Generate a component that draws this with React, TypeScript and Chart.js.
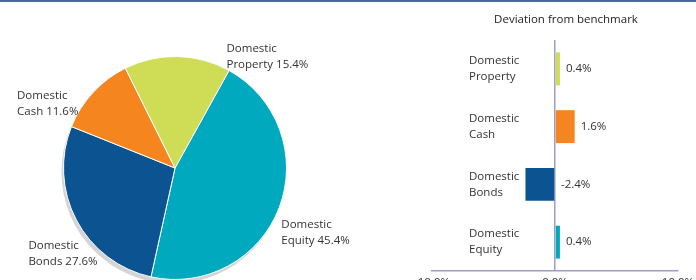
import React, { useEffect, useRef } from "react";
import { Chart, registerables } from "chart.js";

Chart.register(...registerables);

// ---- Data ----
const pieLabels = ["Domestic Equity", "Domestic Bonds", "Domestic Cash", "Domestic Property"];
const pieValues = [45.4, 27.6, 11.6, 15.4];
const pieColors = ["#00a9bd", "#0b5491", "#f5861f", "#cfdc56"];

const barLabels = ["Domestic Property", "Domestic Cash", "Domestic Bonds", "Domestic Equity"];
const barValues = [0.4, 1.6, -2.4, 0.4];
const barColors = ["#cfdc56", "#f5861f", "#0b5491", "#00a9bd"];

const xTickMin = -10;
const xTickMax = 10;
const xTickStep = 10;
const barTitle = "Deviation from benchmark";

// ---- Layout (text offsets relative to slice outer-mid point) ----
const pieLabelOffsets = [
  [2, 17],
  [-48, 26],
  [-76, 3],
  [49, -8],
];

const FAMILY = "'Open Sans', 'Noto Sans', sans-serif";
const FONT = `11.5px ${FAMILY}`;
const TEXT = "#333333";
const AXIS = "#9c9ec9";

function splitLabel(s: string): [string, string] {
  const i = s.indexOf(" ");
  return [s.slice(0, i), s.slice(i + 1)];
}

const piePlugin = {
  id: "pieDecor",
  beforeDatasetsDraw(chart: any) {
    const meta = chart.getDatasetMeta(0);
    const a = meta.data[0];
    if (!a) return;
    const ctx = chart.ctx;
    ctx.save();
    ctx.fillStyle = "#d4d4d6";
    ctx.beginPath();
    ctx.arc(a.x - 2, a.y + 4, a.outerRadius, 0, Math.PI * 2);
    ctx.fill();
    ctx.restore();
  },
  afterDatasetsDraw(chart: any) {
    const meta = chart.getDatasetMeta(0);
    const ctx = chart.ctx;
    ctx.save();
    ctx.font = FONT;
    ctx.fillStyle = TEXT;
    ctx.textBaseline = "middle";
    ctx.textAlign = "left";
    meta.data.forEach((arc: any, i: number) => {
      const mid = (arc.startAngle + arc.endAngle) / 2;
      const px = arc.x + Math.cos(mid) * arc.outerRadius;
      const py = arc.y + Math.sin(mid) * arc.outerRadius;
      const [l1, l2] = splitLabel(pieLabels[i]);
      const x = px + pieLabelOffsets[i][0];
      const y = py + pieLabelOffsets[i][1];
      ctx.fillText(l1, x, y);
      ctx.fillText(`${l2} ${pieValues[i].toFixed(1)}%`, x, y + 16);
    });
    ctx.restore();
  },
};

const barPlugin = {
  id: "barDecor",
  afterDatasetsDraw(chart: any) {
    const ctx = chart.ctx;
    const xs = chart.scales.x;
    const meta = chart.getDatasetMeta(0);
    ctx.save();
    ctx.font = FONT;
    ctx.fillStyle = "#222222";
    ctx.textBaseline = "middle";
    ctx.textAlign = "center";
    ctx.fillText(barTitle, xs.getPixelForValue(0) + 11, 20);
    ctx.fillStyle = TEXT;
    ctx.textAlign = "left";
    meta.data.forEach((bar: any, i: number) => {
      const [l1, l2] = splitLabel(barLabels[i]);
      const lx = chart.chartArea.left + 37;
      ctx.fillText(l1, lx, bar.y - 8);
      ctx.fillText(l2, lx, bar.y + 8);
      const vx = xs.getPixelForValue(Math.max(0, barValues[i])) + 6;
      ctx.fillText(`${barValues[i].toFixed(1)}%`, vx, bar.y);
    });
    ctx.restore();
  },
};

export default function App() {
  const pieRef = useRef<HTMLCanvasElement>(null);
  const barRef = useRef<HTMLCanvasElement>(null);

  useEffect(() => {
    const pie = new Chart(pieRef.current!, {
      type: "pie",
      data: {
        labels: pieLabels,
        datasets: [
          {
            data: pieValues,
            backgroundColor: pieColors,
            borderColor: "#ffffff",
            borderWidth: 1,
          },
        ],
      },
      options: {
        responsive: false,
        animation: false,
        rotation: 29,
        layout: { padding: { left: 63, right: 113, top: 56, bottom: 0 } },
        plugins: { legend: { display: false }, tooltip: { enabled: false } },
      },
      plugins: [piePlugin],
    });

    const bar = new Chart(barRef.current!, {
      type: "bar",
      data: {
        labels: barLabels,
        datasets: [
          {
            data: barValues,
            backgroundColor: barColors,
            barPercentage: 0.57,
            categoryPercentage: 1,
          },
        ],
      },
      options: {
        indexAxis: "y",
        responsive: false,
        animation: false,
        layout: { padding: { left: 32, right: 62, top: 40, bottom: 9 } },
        plugins: { legend: { display: false }, tooltip: { enabled: false } },
        scales: {
          x: {
            min: xTickMin,
            max: xTickMax,
            ticks: {
              stepSize: xTickStep,
              padding: 5,
              color: TEXT,
              font: { family: FAMILY, size: 11.5 },
              callback: (v: any) => `${Number(v).toFixed(1)}%`,
            },
            grid: {
              drawTicks: false,
              color: (c: any) => (c.tick && c.tick.value === 0 ? AXIS : "rgba(0,0,0,0)"),
              lineWidth: 1.5,
            },
            border: { display: true, color: AXIS, width: 1.5 },
            afterFit: (s: any) => {
              s.height = 20;
            },
          },
          y: { display: false },
        },
      },
      plugins: [barPlugin],
    });

    return () => {
      pie.destroy();
      bar.destroy();
    };
  }, []);

  return (
    <div
      style={{
        position: "fixed",
        left: 0,
        top: 0,
        width: 696,
        height: 280,
        overflow: "hidden",
        background: "#ffffff",
      }}
    >
      <div style={{ position: "absolute", left: 0, top: 0, width: 696, height: 2, background: "#4a6795" }} />
      <canvas ref={pieRef} width={400} height={280} style={{ position: "absolute", left: 0, top: 0 }} />
      <canvas ref={barRef} width={340} height={300} style={{ position: "absolute", left: 400, top: 0 }} />
    </div>
  );
}
